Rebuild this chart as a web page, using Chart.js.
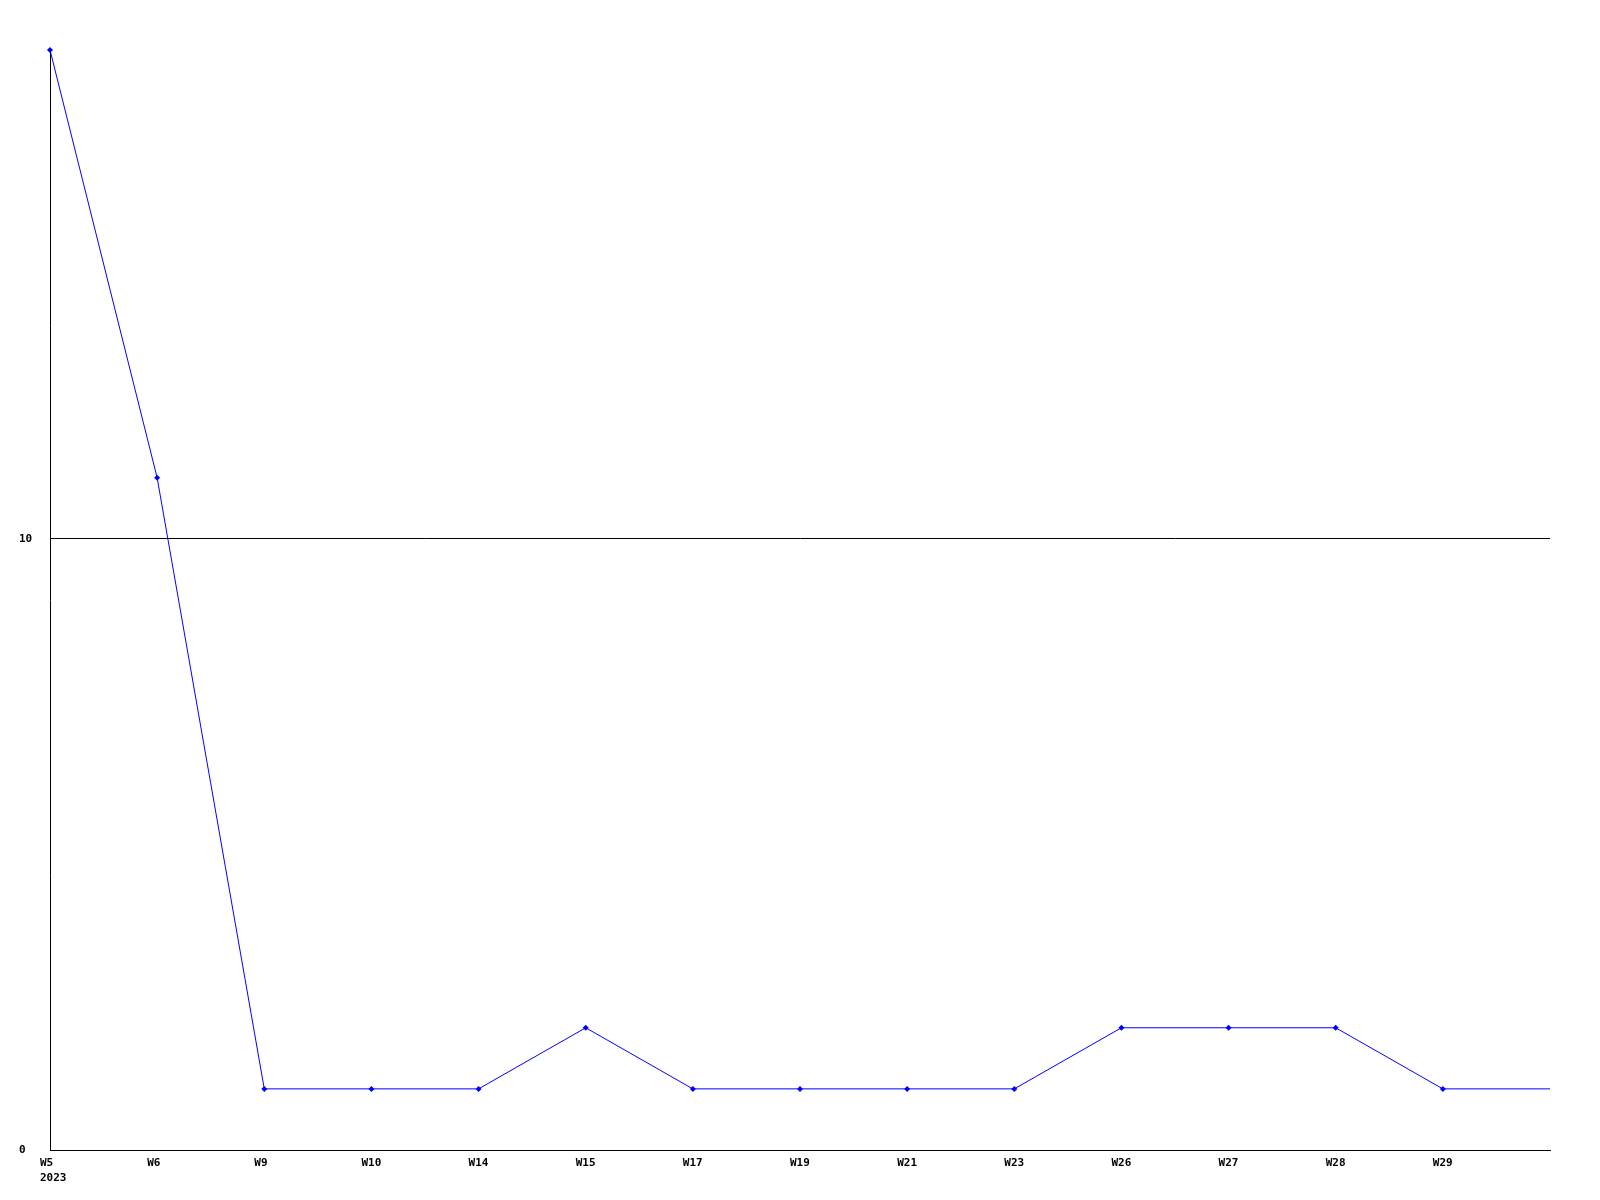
<!DOCTYPE html>
<html>
<head>
<meta charset="utf-8">
<title>Weekly count</title>
<script src="https://cdn.jsdelivr.net/npm/chart.js@4/dist/chart.umd.min.js"></script>
<style>
    html, body { margin: 0; padding: 0; background: #fff; }
    canvas { display: block; }
</style>
</head>
<body>
<canvas id="week-chart" width="1600" height="1200"></canvas>
<script>
// ===== DATOS =====
const weeks     = ['W5', 'W6', 'W9', 'W10', 'W14', 'W15', 'W17', 'W19', 'W21', 'W23', 'W26', 'W27', 'W28', 'W29'];
const yearLabel = '2023';
// el ultimo valor cae sobre el borde derecho, sin etiqueta
const counts    = [18, 11, 1, 1, 1, 2, 1, 1, 1, 1, 2, 2, 2, 1, 1];
const yTicks    = [0, 10];

// ===== ESTILO =====
const tickFont = { family: 'DejaVu Sans Mono', size: 11, weight: 'bold', lineHeight: 1.36 };

const points = counts.map((v, i) => ({ x: i, y: v }));

new Chart(document.getElementById('week-chart').getContext('2d'), {
    type: 'line',
    data: {
        datasets: [{
            data: points,
            borderColor: '#0000ff',
            borderWidth: 1,
            backgroundColor: '#0000ff',
            pointBackgroundColor: '#0000ff',
            pointBorderColor: '#0000ff',
            pointStyle: 'rectRot',
            pointRadius: points.map((p, i) => i < weeks.length ? 3 : 0),
            pointBorderWidth: 0,
            tension: 0,
            clip: false,
        }]
    },
    options: {
        responsive: false,
        animation: false,
        events: [],
        layout: { padding: { top: 50, right: 50, left: 19, bottom: 0 } },
        plugins: { legend: { display: false }, tooltip: { enabled: false } },
        scales: {
            x: {
                type: 'linear',
                min: 0,
                max: counts.length - 1,
                afterBuildTicks: s => { s.ticks = weeks.map((w, i) => ({ value: i })); },
                afterFit: s => { s.height = 50; },
                grid: { display: false, drawTicks: false },
                border: { display: true, color: '#000', width: 1 },
                ticks: {
                    color: '#000',
                    font: tickFont,
                    align: 'start',
                    labelOffset: -10,
                    padding: 6,
                    maxRotation: 0,
                    autoSkip: false,
                    callback: v => v === 0 ? [weeks[0], yearLabel] : weeks[v],
                }
            },
            y: {
                min: 0,
                max: 18,
                afterBuildTicks: s => { s.ticks = yTicks.map(v => ({ value: v })); },
                afterFit: s => { s.width = 31; },
                grid: { color: '#000', lineWidth: 1, drawTicks: false },
                border: { display: true, color: '#000', width: 1 },
                ticks: {
                    color: '#000',
                    font: tickFont,
                    crossAlign: 'far',
                    padding: 0,
                }
            }
        }
    }
});
</script>
</body>
</html>
